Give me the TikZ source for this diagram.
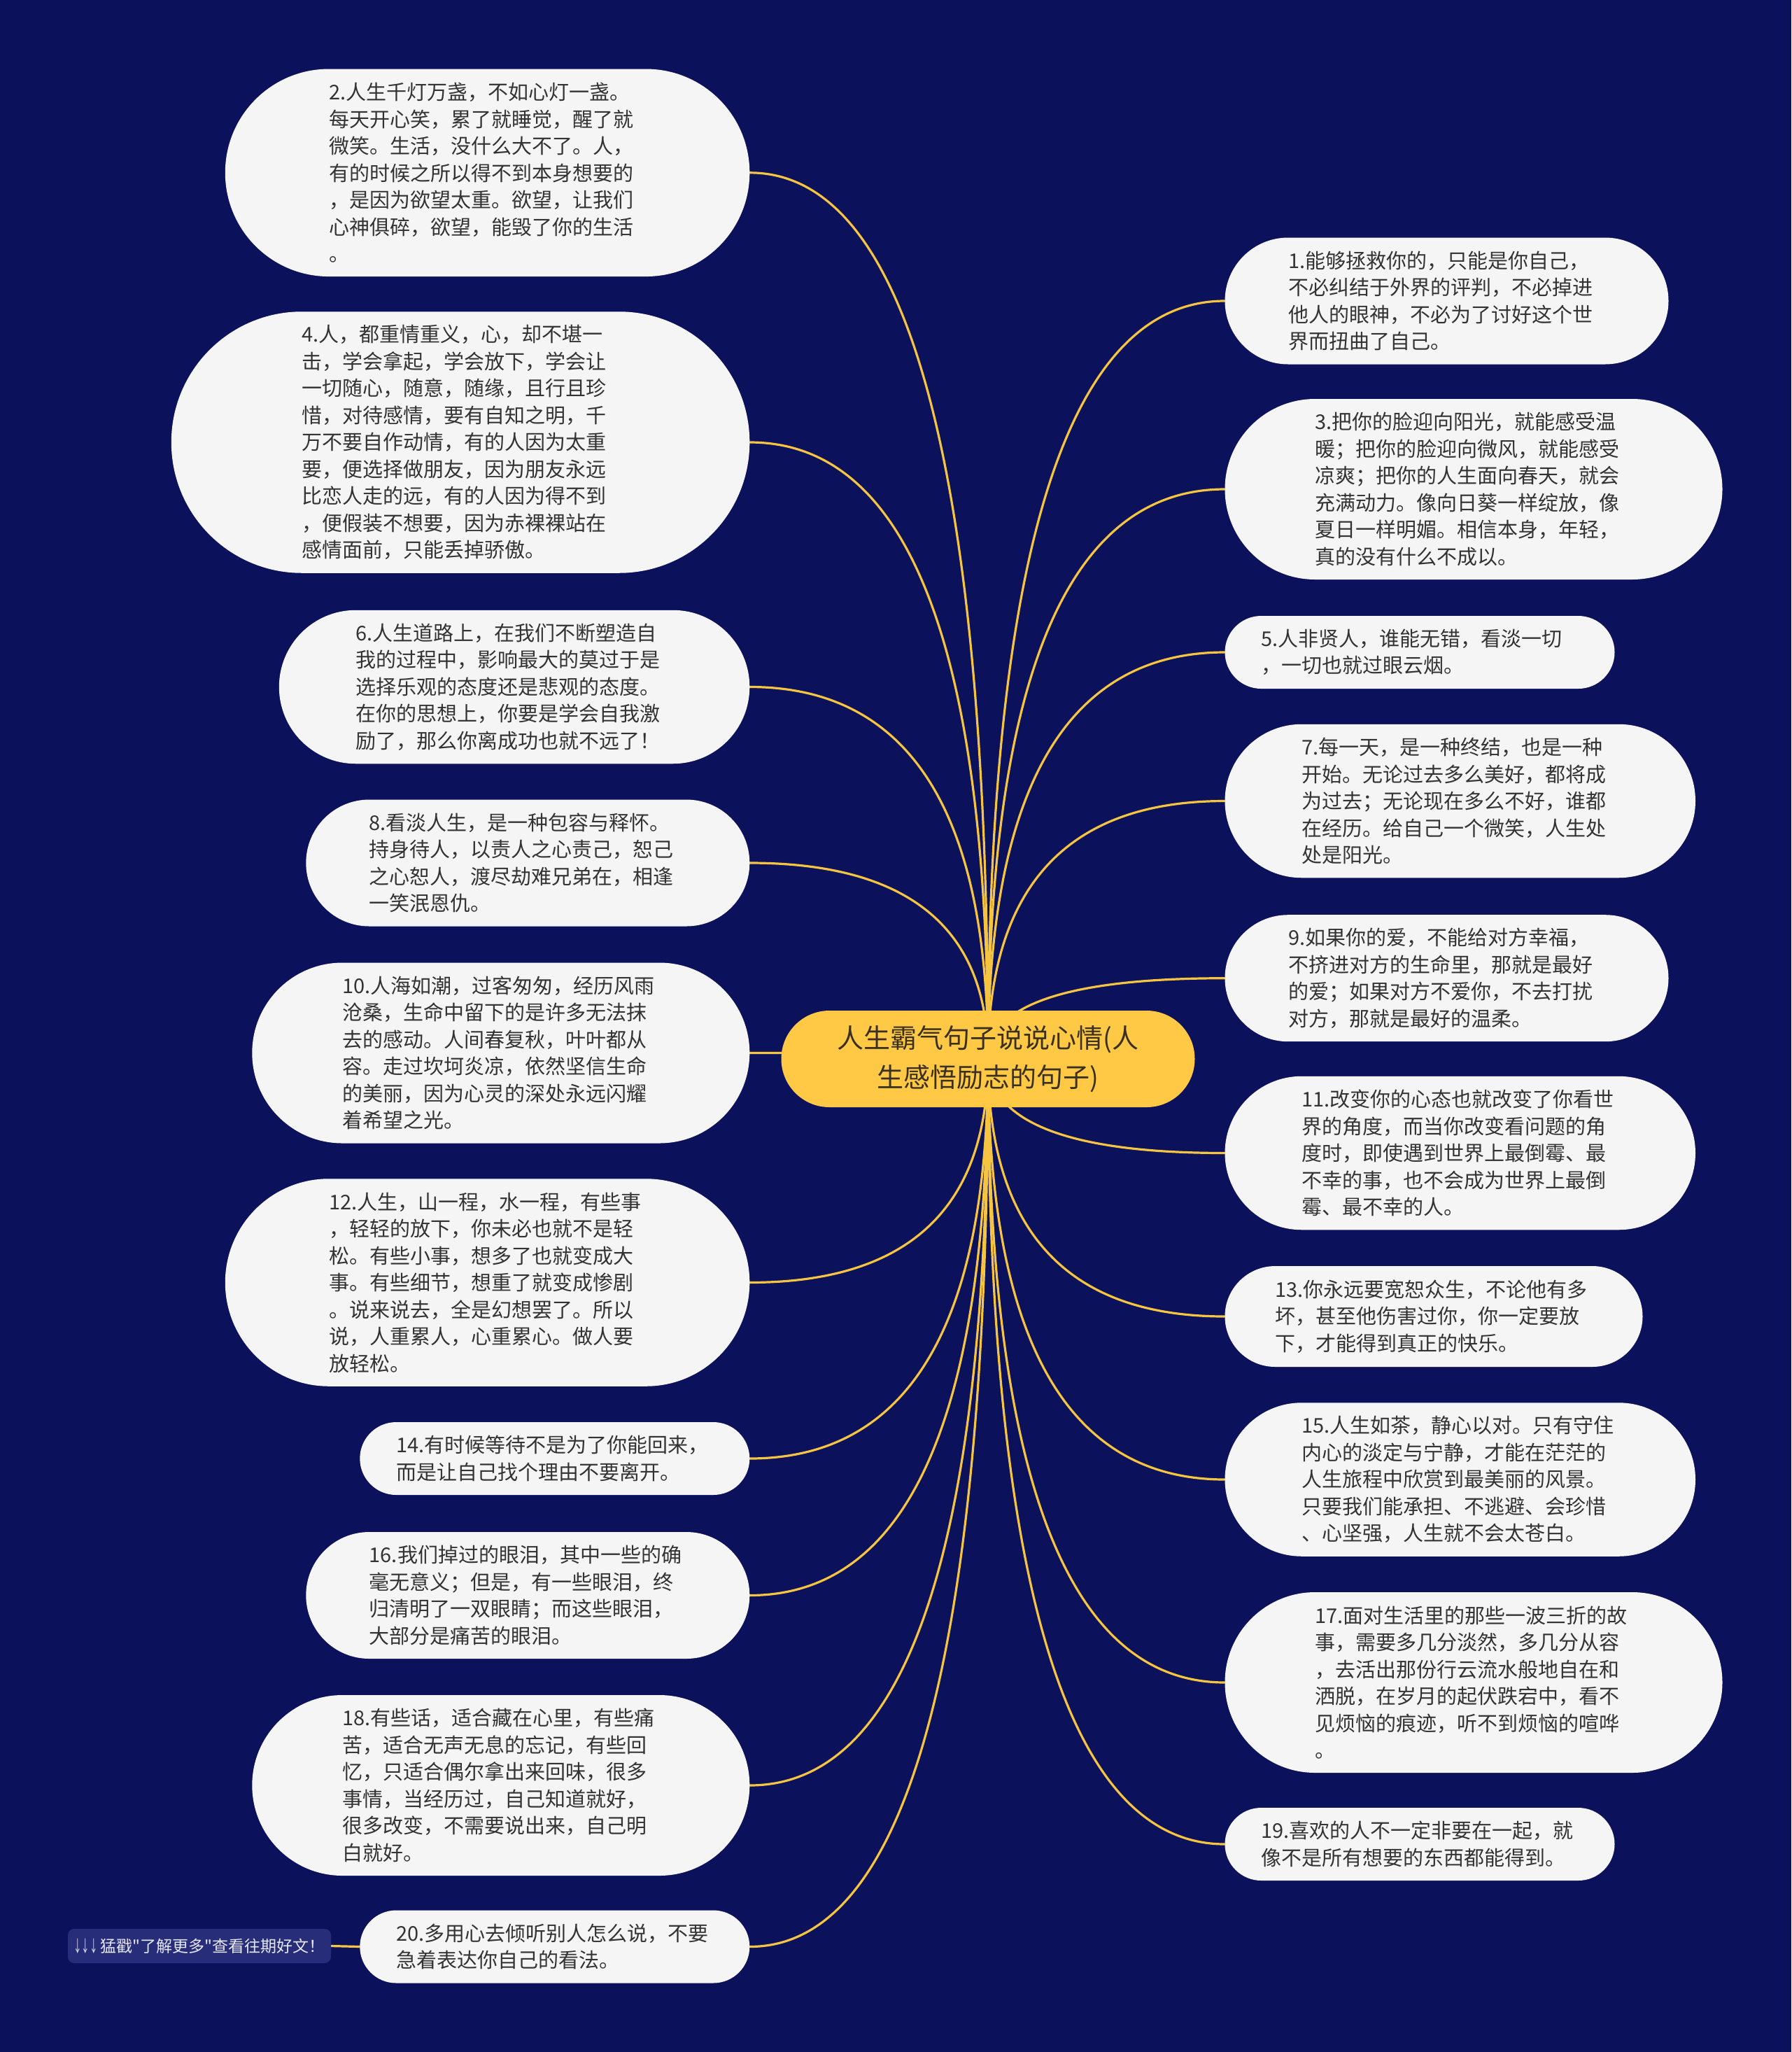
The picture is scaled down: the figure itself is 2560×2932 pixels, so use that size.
\documentclass[tikz,border=0pt]{standalone}
\usepackage{fontspec}
\usepackage{graphicx}
\setmainfont{Noto Sans CJK SC}
\newfontfamily\lblfont{Noto Sans CJK SC}
\usetikzlibrary{calc}
\definecolor{bgnavy}{HTML}{0C115C}
\definecolor{leaffill}{HTML}{F5F5F5}
\definecolor{leaftext}{HTML}{333333}
\definecolor{rootfill}{HTML}{FFC845}
\definecolor{roottext}{HTML}{3A3020}
\definecolor{linkcol}{HTML}{F5C542}
\definecolor{lblfill}{HTML}{282D7A}
\definecolor{lbltext}{HTML}{E6E8F5}
\pgfdeclarelayer{bg}
\pgfdeclarelayer{lines}
\pgfsetlayers{bg,lines,main}
\tikzset{
  leaf/.style={rectangle, fill=leaffill, text=leaftext,
    font=\fontsize{29pt}{38.5pt}\selectfont, align=left, text width=453pt,
    inner ysep=0pt, inner xsep=0.5*#1, minimum height=#1,
    rounded corners=0.5*#1-0.05pt},
  rootbox/.style={rectangle, fill=rootfill, text=roottext,
    font=\fontsize{38pt}{56pt}\selectfont, align=center,
    minimum width=591pt, minimum height=138pt, inner sep=0pt,
    rounded corners=68.9pt},
  lblbox/.style={rectangle, fill=lblfill, text=lbltext,
    font=\lblfont\fontsize{23pt}{27pt}\selectfont,
    minimum width=376pt, minimum height=49pt, inner sep=0pt,
    rounded corners=9pt},
  conn/.style={draw=linkcol, line width=3.2pt, line cap=round}
}
\newcommand\mylink[2]{%
  \coordinate (q#1) at (root.center |- #1.#2);
  \draw[conn] (root.center) .. controls ($(root.center)!0.6667!(q#1)$) and ($(#1.#2)!0.6667!(q#1)$) .. (#1.#2);}
\begin{document}
\begin{tikzpicture}[x=1pt,y=-1pt]
\useasboundingbox (0,0) rectangle (2560,2932);
\begin{pgfonlayer}{bg}
  \fill[bgnavy] (0,0) rectangle (2560,2932);
\end{pgfonlayer}

\node[rootbox] (root) at (1412,1513) {人生霸气句子说说心情(人\\生感悟励志的句子)};

% left side
\node[leaf=296.5pt, anchor=east] (n2) at (1071.5,246.8) {2.人生千灯万盏，不如心灯一盏。\\每天开心笑，累了就睡觉，醒了就\\微笑。生活，没什么大不了。人，\\有的时候之所以得不到本身想要的\\，是因为欲望太重。欲望，让我们\\心神俱碎，欲望，能毁了你的生活\\。};
\node[leaf=373.5pt, anchor=east] (n4) at (1071.5,632) {4.人，都重情重义，心，却不堪一\\击，学会拿起，学会放下，学会让\\一切随心，随意，随缘，且行且珍\\惜，对待感情，要有自知之明，千\\万不要自作动情，有的人因为太重\\要，便选择做朋友，因为朋友永远\\比恋人走的远，有的人因为得不到\\，便假装不想要，因为赤裸裸站在\\感情面前，只能丢掉骄傲。};
\node[leaf=219.5pt, anchor=east] (n6) at (1071.5,981.5) {6.人生道路上，在我们不断塑造自\\我的过程中，影响最大的莫过于是\\选择乐观的态度还是悲观的态度。\\在你的思想上，你要是学会自我激\\励了，那么你离成功也就不远了！};
\node[leaf=181pt, anchor=east] (n8) at (1071.5,1233) {8.看淡人生，是一种包容与释怀。\\持身待人，以责人之心责己，恕己\\之心恕人，渡尽劫难兄弟在，相逢\\一笑泯恩仇。};
\node[leaf=258pt, anchor=east] (n10) at (1071.5,1504.5) {10.人海如潮，过客匆匆，经历风雨\\沧桑，生命中留下的是许多无法抹\\去的感动。人间春复秋，叶叶都从\\容。走过坎坷炎凉，依然坚信生命\\的美丽，因为心灵的深处永远闪耀\\着希望之光。};
\node[leaf=296.5pt, anchor=east] (n12) at (1071.5,1832.5) {12.人生，山一程，水一程，有些事\\，轻轻的放下，你未必也就不是轻\\松。有些小事，想多了也就变成大\\事。有些细节，想重了就变成惨剧\\。说来说去，全是幻想罢了。所以\\说，人重累人，心重累心。做人要\\放轻松。};
\node[leaf=104pt, anchor=east] (n14) at (1071.5,2084) {14.有时候等待不是为了你能回来，\\而是让自己找个理由不要离开。};
\node[leaf=181pt, anchor=east] (n16) at (1071.5,2279.5) {16.我们掉过的眼泪，其中一些的确\\毫无意义；但是，有一些眼泪，终\\归清明了一双眼睛；而这些眼泪，\\大部分是痛苦的眼泪。};
\node[leaf=258pt, anchor=east] (n18) at (1071.5,2551) {18.有些话，适合藏在心里，有些痛\\苦，适合无声无息的忘记，有些回\\忆，只适合偶尔拿出来回味，很多\\事情，当经历过，自己知道就好，\\很多改变，不需要说出来，自己明\\白就好。};
\node[leaf=104pt, anchor=east] (n20) at (1071.5,2781.5) {20.多用心去倾听别人怎么说，不要\\急着表达你自己的看法。};

% right side
\node[leaf=181pt, anchor=west] (n1) at (1750.3,430) {1.能够拯救你的，只能是你自己，\\不必纠结于外界的评判，不必掉进\\他人的眼神，不必为了讨好这个世\\界而扭曲了自己。};
\node[leaf=258pt, anchor=west] (n3) at (1750.3,699) {3.把你的脸迎向阳光，就能感受温\\暖；把你的脸迎向微风，就能感受\\凉爽；把你的人生面向春天，就会\\充满动力。像向日葵一样绽放，像\\夏日一样明媚。相信本身，年轻，\\真的没有什么不成以。};
\node[leaf=104pt, anchor=west] (n5) at (1750.3,932) {5.人非贤人，谁能无错，看淡一切\\，一切也就过眼云烟。};
\node[leaf=219.5pt, anchor=west] (n7) at (1750.3,1144.5) {7.每一天，是一种终结，也是一种\\开始。无论过去多么美好，都将成\\为过去；无论现在多么不好，谁都\\在经历。给自己一个微笑，人生处\\处是阳光。};
\node[leaf=181pt, anchor=west] (n9) at (1750.3,1397.7) {9.如果你的爱，不能给对方幸福，\\不挤进对方的生命里，那就是最好\\的爱；如果对方不爱你，不去打扰\\对方，那就是最好的温柔。};
\node[leaf=219.5pt, anchor=west] (n11) at (1750.3,1647.5) {11.改变你的心态也就改变了你看世\\界的角度，而当你改变看问题的角\\度时，即使遇到世界上最倒霉、最\\不幸的事，也不会成为世界上最倒\\霉、最不幸的人。};
\node[leaf=144pt, anchor=west] (n13) at (1750.3,1881) {13.你永远要宽恕众生，不论他有多\\坏，甚至他伤害过你，你一定要放\\下，才能得到真正的快乐。};
\node[leaf=219.5pt, anchor=west] (n15) at (1750.3,2114) {15.人生如茶，静心以对。只有守住\\内心的淡定与宁静，才能在茫茫的\\人生旅程中欣赏到最美丽的风景。\\只要我们能承担、不逃避、会珍惜\\、心坚强，人生就不会太苍白。};
\node[leaf=258pt, anchor=west] (n17) at (1750.3,2404) {17.面对生活里的那些一波三折的故\\事，需要多几分淡然，多几分从容\\，去活出那份行云流水般地自在和\\洒脱，在岁月的起伏跌宕中，看不\\见烦恼的痕迹，听不到烦恼的喧哗\\。};
\node[leaf=104pt, anchor=west] (n19) at (1750.3,2635) {19.喜欢的人不一定非要在一起，就\\像不是所有想要的东西都能得到。};

\node[lblbox] (lbl) at (285,2780.5) {\scalebox{0.5}[1]{↓↓↓}\kern4pt 猛戳"了解更多"查看往期好文！};

\begin{pgfonlayer}{lines}
  \mylink{n2}{east}
  \mylink{n4}{east}
  \mylink{n6}{east}
  \mylink{n8}{east}
  \mylink{n10}{east}
  \mylink{n12}{east}
  \mylink{n14}{east}
  \mylink{n16}{east}
  \mylink{n18}{east}
  \mylink{n20}{east}
  \mylink{n1}{west}
  \mylink{n3}{west}
  \mylink{n5}{west}
  \mylink{n7}{west}
  \mylink{n9}{west}
  \mylink{n11}{west}
  \mylink{n13}{west}
  \mylink{n15}{west}
  \mylink{n17}{west}
  \mylink{n19}{west}
  \draw[conn] (lbl.east) -- (n20.west);
\end{pgfonlayer}
\end{tikzpicture}
\end{document}
